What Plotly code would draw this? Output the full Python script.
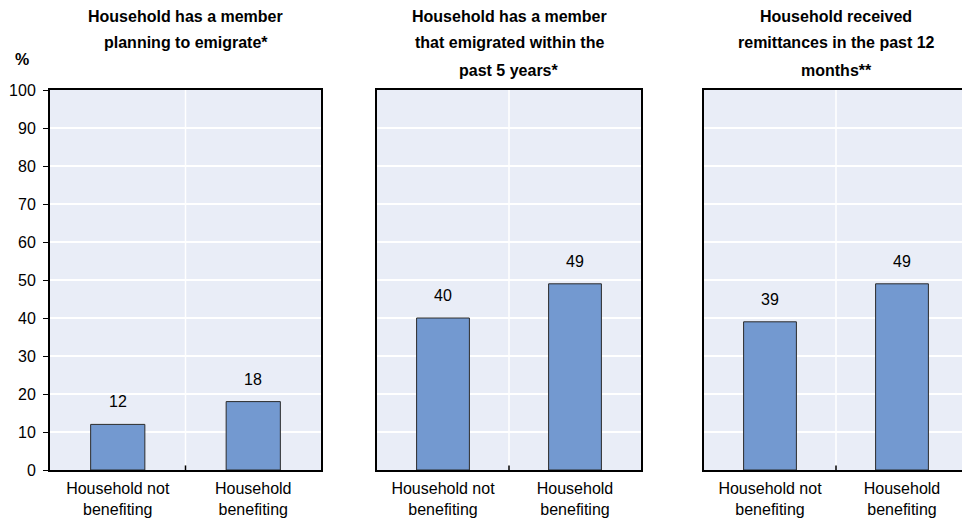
import plotly.graph_objects as go

panel_titles = [
    ["Household has a member", "planning to emigrate*"],
    ["Household has a member", "that emigrated within the", "past 5 years*"],
    ["Household received", "remittances in the past 12", "months**"],
]
categories = ["Household not<br>benefiting", "Household<br>benefiting"]
values = [
    [12, 18],
    [40, 49],
    [39, 49],
]
y_ticks = [0, 10, 20, 30, 40, 50, 60, 70, 80, 90, 100]

FONT = "Arial Narrow, Liberation Sans Narrow, Liberation Sans, Arial, sans-serif"
BAR = "#7399d0"
BG = "#e9edf7"

OFF = 8  # page body margin
W, H = 970 - OFF, 521 - OFF
ml, mt = 50 - OFF, 90 - OFF
plot_bottom = 470 - OFF
plot_right = 968 - OFF
mr = W - plot_right
mb = H - plot_bottom
pw = plot_right - ml
ph = plot_bottom - mt
px_domains = [(50, 321), (377, 641), (704, 968)]
domains = [((a - OFF - ml) / pw, (b - OFF - ml) / pw) for a, b in px_domains]
title_line_y = [17, 43, 70]


def ypaper(ref_y):
    return (plot_bottom - (ref_y - OFF)) / ph


fig = go.Figure()
for i in range(3):
    xa = "x" if i == 0 else f"x{i+1}"
    ya = "y" if i == 0 else f"y{i+1}"
    fig.add_trace(go.Bar(
        x=[0, 1], y=values[i], xaxis=xa, yaxis=ya,
        marker=dict(color=BAR, line=dict(color="#2b2b2b", width=1)),
        width=0.4, showlegend=False, hoverinfo="skip",
    ))
    for j, v in enumerate(values[i]):
        fig.add_annotation(x=j, y=v, xref=xa, yref=ya, text=str(v),
                           showarrow=False, yanchor="bottom", yshift=12,
                           font=dict(family=FONT, size=16, color="#000"))
    for k, line in enumerate(panel_titles[i]):
        fig.add_annotation(x=0.5, xref=f"{xa} domain", y=ypaper(title_line_y[k]), yref="paper",
                           text=f"<b>{line}</b>", showarrow=False,
                           yanchor="middle", xanchor="center",
                           font=dict(family=FONT, size=16, color="#000"))
    fig.add_shape(type="line", xref=f"{xa} domain", yref=f"{ya} domain",
                  x0=0.5, x1=0.5, y0=0, y1=1, line=dict(color="white", width=1.5),
                  layer="below")
    fig.add_shape(type="line", xref=f"{xa} domain", yref=f"{ya} domain",
                  x0=0.5, x1=0.5, y0=0, y1=0.012, line=dict(color="#000", width=1.5))

    xkey = "xaxis" if i == 0 else f"xaxis{i+1}"
    ykey = "yaxis" if i == 0 else f"yaxis{i+1}"
    fig.layout[xkey] = dict(
        domain=list(domains[i]), anchor=ya, range=[-0.5, 1.5], automargin=False,
        tickvals=[0, 1], ticktext=categories, showgrid=False, zeroline=False,
        showline=True, linecolor="#000", linewidth=2, mirror=True, ticks="",
        ticklabelstandoff=3,
        tickfont=dict(family=FONT, size=16, color="#000"), fixedrange=True,
    )
    fig.layout[ykey] = dict(
        domain=[0, 1], anchor=xa, range=[0, 100], tickvals=y_ticks, automargin=False,
        showgrid=True, gridcolor="white", gridwidth=1.5, zeroline=False,
        showline=True, linecolor="#000", linewidth=2, mirror=True,
        ticks="outside" if i == 0 else "", ticklen=5, tickcolor="#000",
        showticklabels=(i == 0), ticklabelstandoff=4,
        tickfont=dict(family=FONT, size=16, color="#000"), fixedrange=True,
    )

fig.add_annotation(x=(22 - OFF - ml) / pw, xref="paper", y=ypaper(60), yref="paper",
                   text="<b>%</b>", showarrow=False, xanchor="center", yanchor="middle",
                   font=dict(family=FONT, size=16, color="#000"))

fig.update_layout(
    width=W, height=H, margin=dict(l=ml, r=mr, t=mt, b=mb),
    plot_bgcolor=BG, paper_bgcolor="white",
    font=dict(family=FONT, size=16, color="#000"),
)
fig.write_html("out.html")
